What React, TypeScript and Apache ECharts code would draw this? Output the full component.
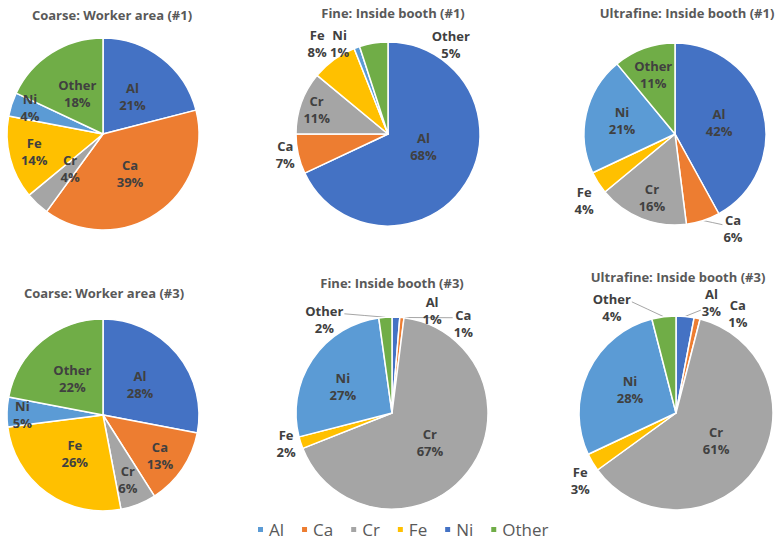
import React, { useEffect, useRef } from "react";
import * as echarts from "echarts";

// ---- data ----
const elements = ["Al", "Ca", "Cr", "Fe", "Ni", "Other"];
const titles = [
  "Coarse: Worker area (#1)",
  "Fine: Inside booth (#1)",
  "Ultrafine: Inside booth (#1)",
  "Coarse: Worker area (#3)",
  "Fine: Inside booth (#3)",
  "Ultrafine: Inside booth (#3)",
];
const coarse1 = [21, 39, 4, 14, 4, 18];
const fine1 = [68, 7, 11, 8, 1, 5];
const ultrafine1 = [42, 6, 16, 4, 21, 11];
const coarse3 = [28, 13, 6, 26, 5, 22];
const fine3 = [1.3, 0.7, 67, 2, 26.8, 2.2];
const ultrafine3 = [3, 1, 61, 3, 28, 4];
const seriesValues = [coarse1, fine1, ultrafine1, coarse3, fine3, ultrafine3];

// ---- styles / layout ----
const sliceColors: Record<string, string> = {
  Al: "#4472C4", Ca: "#ED7D31", Cr: "#A5A5A5", Fe: "#FFC000", Ni: "#5B9BD5", Other: "#70AD47",
};
const legendColors: Record<string, string> = {
  Al: "#5B9BD5", Ca: "#ED7D31", Cr: "#A5A5A5", Fe: "#FFC000", Ni: "#4472C4", Other: "#70AD47",
};

type LabelSpec = { k: number; angle?: number; line?: number };
type Panel = { center: [number, number]; r: number; title: [number, number]; labels: LabelSpec[] };

const panels: Panel[] = [
  {
    center: [103, 134], r: 96, title: [112, 15],
    labels: [{ k: 0.5 }, { k: 0.5 }, { k: 0.5 }, { k: 0.74 }, { k: 0.81, angle: 290 }, { k: 0.5 }],
  },
  {
    center: [388, 134], r: 92, title: [393, 13],
    labels: [
      { k: 0.41, angle: 110 }, { k: 1.14, angle: 258.5 }, { k: 0.82, angle: 289 },
      { k: 1.25, angle: 322 }, { k: 1.12, angle: 332 }, { k: 1.19, angle: 35 },
    ],
  },
  {
    center: [675, 134], r: 91, title: [687, 13],
    labels: [
      { k: 0.5 }, { k: 1.22, angle: 148.5, line: -4 }, { k: 0.74, angle: 200 },
      { k: 1.24, angle: 233.6 }, { k: 0.6, angle: 284 }, { k: 0.7, angle: 340 },
    ],
  },
  {
    center: [103, 415], r: 96, title: [104, 293],
    labels: [
      { k: 0.5 }, { k: 0.73, angle: 125.7 }, { k: 0.72, angle: 159 },
      { k: 0.5 }, { k: 0.84, angle: 270.7 }, { k: 0.5 },
    ],
  },
  {
    center: [392, 413], r: 96, title: [392, 283],
    labels: [
      { k: 1.15, angle: 21.3 }, { k: 1.19, angle: 38.6, line: -6 }, { k: 0.5 },
      { k: 1.15, angle: 253.7 }, { k: 0.58, angle: 298 }, { k: 1.2, angle: 324, line: -6 },
    ],
  },
  {
    center: [676, 413], r: 97, title: [678, 277],
    labels: [
      { k: 1.2, angle: 17.7, line: 8 }, { k: 1.21, angle: 31.8 }, { k: 0.5 },
      { k: 1.21, angle: 234.7 }, { k: 0.53, angle: 296.6 }, { k: 1.27, angle: 328.6, line: -6 },
    ],
  },
];

const FONT = "'Open Sans', 'Noto Sans', sans-serif";

function buildOption() {
  const series = seriesValues.map((vals, si) => {
    const panel = panels[si];
    const total = vals.reduce((a, b) => a + b, 0);
    const mids: number[] = [];
    let cum = 0;
    vals.forEach((v) => {
      mids.push(((cum + v / 2) / total) * 360);
      cum += v;
    });
    const [cx, cy] = panel.center;
    const r = panel.r;
    return {
      type: "pie",
      center: panel.center,
      radius: r,
      startAngle: 90,
      clockwise: true,
      avoidLabelOverlap: false,
      emphasis: { disabled: true },
      itemStyle: { borderColor: "#ffffff", borderWidth: 1.5 },
      label: {
        show: true,
        color: "#404040",
        fontFamily: FONT,
        fontSize: 13,
        fontWeight: "bold",
        lineHeight: 17,
        formatter: (p: any) => `${p.name}\n${Math.round(p.value)}%`,
      },
      labelLine: { show: false, lineStyle: { color: "#A6A6A6", width: 1 } },
      data: vals.map((v, i) => {
        const spec = panel.labels[i];
        const hasLine = spec.line != null;
        return {
          name: elements[i],
          value: v,
          itemStyle: { color: sliceColors[elements[i]] },
          label: { position: hasLine ? "outside" : "inside" },
          labelLine: { show: hasLine },
        };
      }),
      labelLayout: (p: any) => {
        const spec = panel.labels[p.dataIndex];
        const ang = ((spec.angle ?? mids[p.dataIndex]) * Math.PI) / 180;
        const x = cx + spec.k * r * Math.sin(ang);
        const y = cy - spec.k * r * Math.cos(ang);
        const res: any = { x, y, align: "center", verticalAlign: "middle" };
        if (spec.line != null) {
          const m = (mids[p.dataIndex] * Math.PI) / 180;
          const sx = cx + r * Math.sin(m);
          const sy = cy - r * Math.cos(m);
          const half = (p.labelRect?.width ?? 20) / 2 + 1;
          const ex = x > sx ? x - half : x + half;
          const ey = y + spec.line;
          res.labelLinePoints = [
            [sx, sy],
            [(sx + ex) / 2, (sy + ey) / 2],
            [ex, ey],
          ];
        }
        return res;
      },
    };
  });

  const title = titles.map((t, i) => ({
    text: t,
    left: panels[i].title[0],
    top: panels[i].title[1],
    textAlign: "center",
    textVerticalAlign: "middle",
    padding: 0,
    textStyle: { color: "#595959", fontFamily: FONT, fontSize: 13, fontWeight: "bold" },
  }));

  return {
    animation: false,
    backgroundColor: "#ffffff",
    title,
    legend: {
      left: 256,
      top: 521,
      padding: 0,
      orient: "horizontal",
      icon: "rect",
      itemWidth: 7,
      itemHeight: 7,
      itemGap: 16,
      selectedMode: false,
      textStyle: { color: "#595959", fontFamily: FONT, fontSize: 17 },
      data: elements.map((e) => ({ name: e, itemStyle: { color: legendColors[e] } })),
    },
    series,
  };
}

export default function App() {
  const ref = useRef<HTMLDivElement>(null);
  useEffect(() => {
    if (!ref.current) return;
    const chart = echarts.init(ref.current, undefined, { renderer: "svg" });
    chart.setOption(buildOption() as any);
    return () => chart.dispose();
  }, []);
  return (
    <div
      ref={ref}
      style={{ position: "fixed", left: 0, top: 0, width: 777, height: 541, background: "#fff" }}
    />
  );
}
